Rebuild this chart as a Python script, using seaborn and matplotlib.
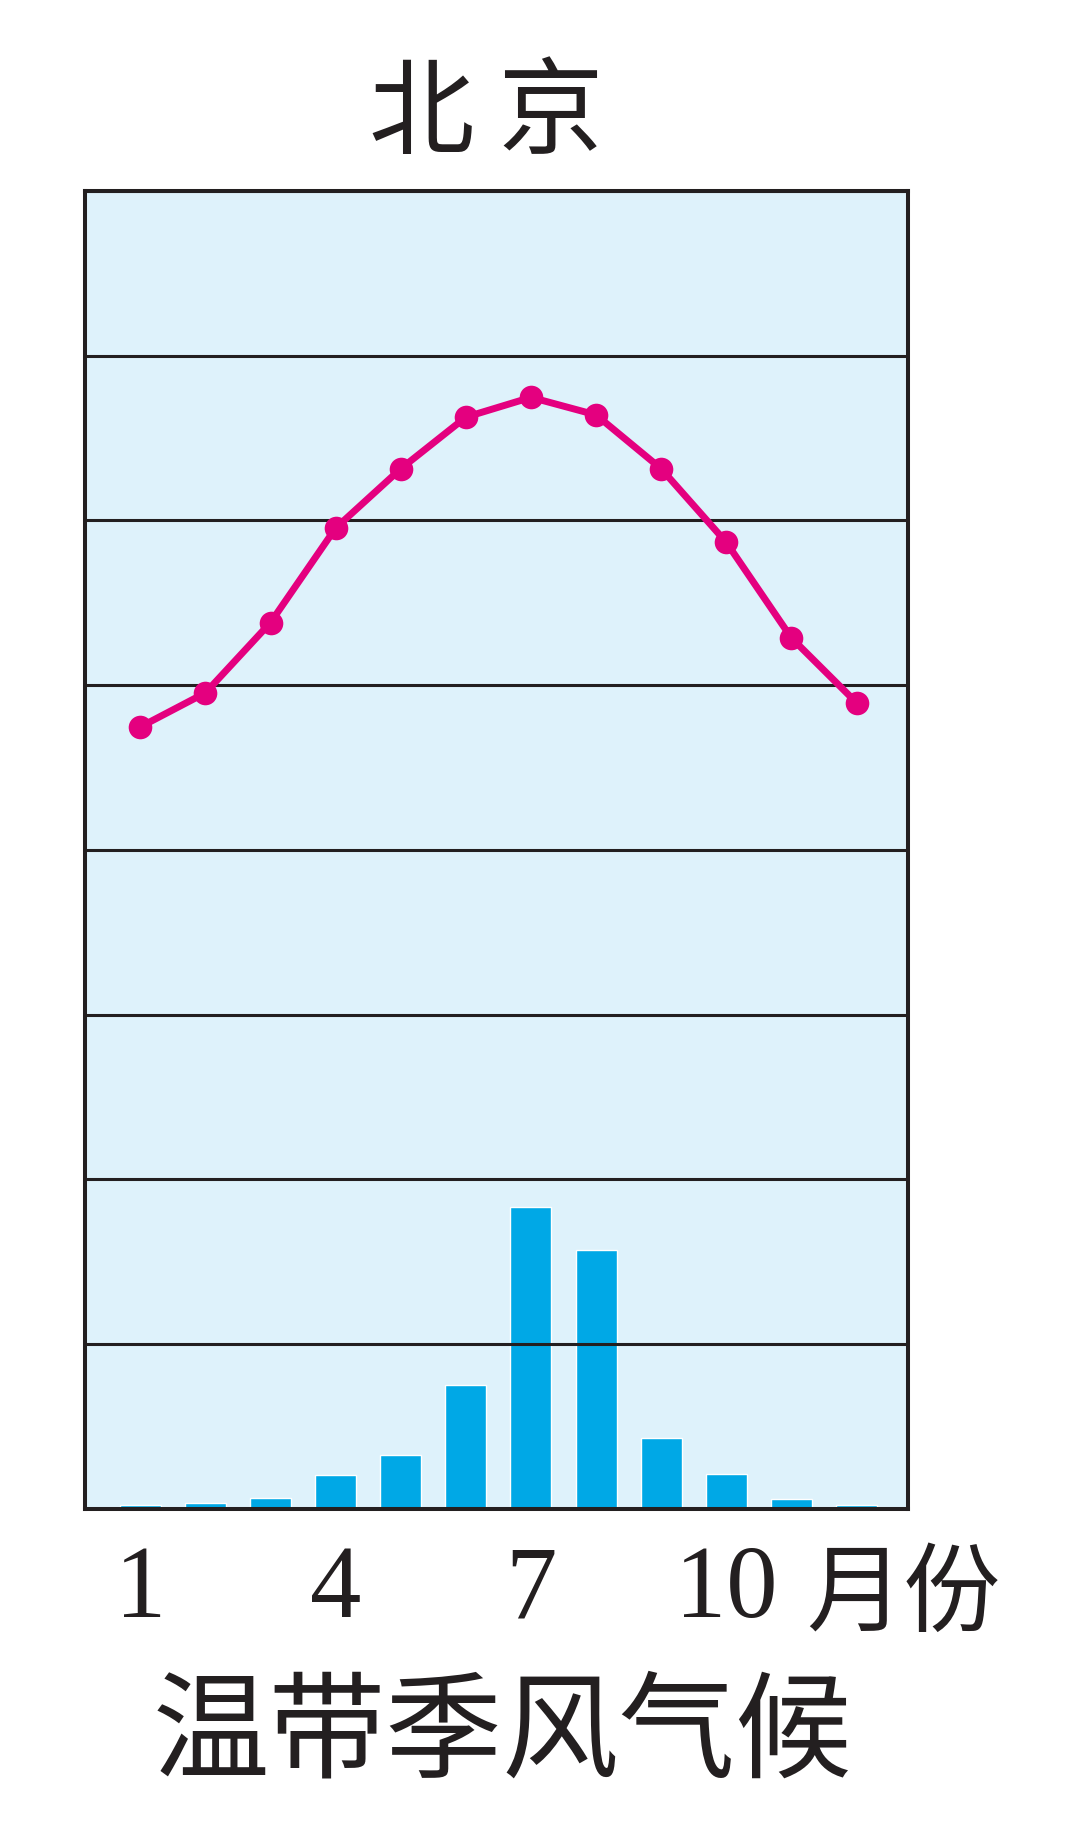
import matplotlib
matplotlib.use("Agg")
import matplotlib.pyplot as plt
import seaborn as sns
import pandas as pd

# Beijing climate chart
months = [1, 2, 3, 4, 5, 6, 7, 8, 9, 10, 11, 12]
temp_c = [-3.8, -0.7, 5.7, 14.3, 19.7, 24.4, 26.2, 24.6, 19.7, 13.0, 4.3, -1.6]
precip_mm = [2.2, 3.8, 6.8, 20.5, 33, 75, 183, 157, 43, 21, 6, 2.6]
tick_months = [1, 4, 7, 10]
tick_labels = ["1", "4", "7", "10"]

title = "北 京"
unit_label = "月份"
climate = "温带季风气候"

df = pd.DataFrame({"month": months, "temp": temp_c, "precip": precip_mm})

sns.set_style("white")
plt.rcParams['font.family'] = ['Noto Sans CJK SC', 'DejaVu Sans']

ink = "#231F20"
fig = plt.figure(figsize=(10.8, 18.44), dpi=100)
ax = fig.add_axes([0.0787, 0.1817, 0.7620, 0.7148])
ax.set_facecolor("#DEF2FB")

# precipitation bars
sns.barplot(data=df, x="month", y="precip", native_scale=True, width=0.63,
            color="#00A8E6", saturation=1, ax=ax)
ax.set_xlim(0.15, 12.79)
ax.set_ylim(0, 800)
ax.set_yticks(range(0, 801, 100))
ax.set_yticklabels([])
ax.grid(axis="y", color=ink, lw=2.2)
ax.grid(axis="x", visible=False)
ax.set_axisbelow(False)
ax.set_xticks(tick_months)
ax.set_xticklabels(tick_labels, family=['Liberation Serif'], fontsize=74, color=ink)
ax.tick_params(axis="both", length=0, pad=26)
ax.set_xlabel("")
ax.set_ylabel("")
for s in ax.spines.values():
    s.set_color(ink)
    s.set_linewidth(2.9)
    s.set_zorder(5)

# temperature curve
ax2 = ax.twinx()
sns.lineplot(data=df, x="month", y="temp", ax=ax2, color="#E4007F", linewidth=5,
             marker="o", markersize=17, markeredgewidth=0)
ax2.set_ylim(-75, 45)
ax2.set_yticks([])
ax2.set_ylabel("")
ax2.set_xlabel("")
for s in ax2.spines.values():
    s.set_visible(False)

fig.text(0.45, 0.9375, title, ha="center", va="center", fontsize=76,
         fontweight="medium", color=ink)
fig.text(0.746, 0.1345, unit_label, ha="left", va="center", fontsize=70, color=ink)
fig.text(0.4648, 0.0585, climate, ha="center", va="center", fontsize=84, color=ink)

fig.savefig("out.png", dpi=100, facecolor="white")
